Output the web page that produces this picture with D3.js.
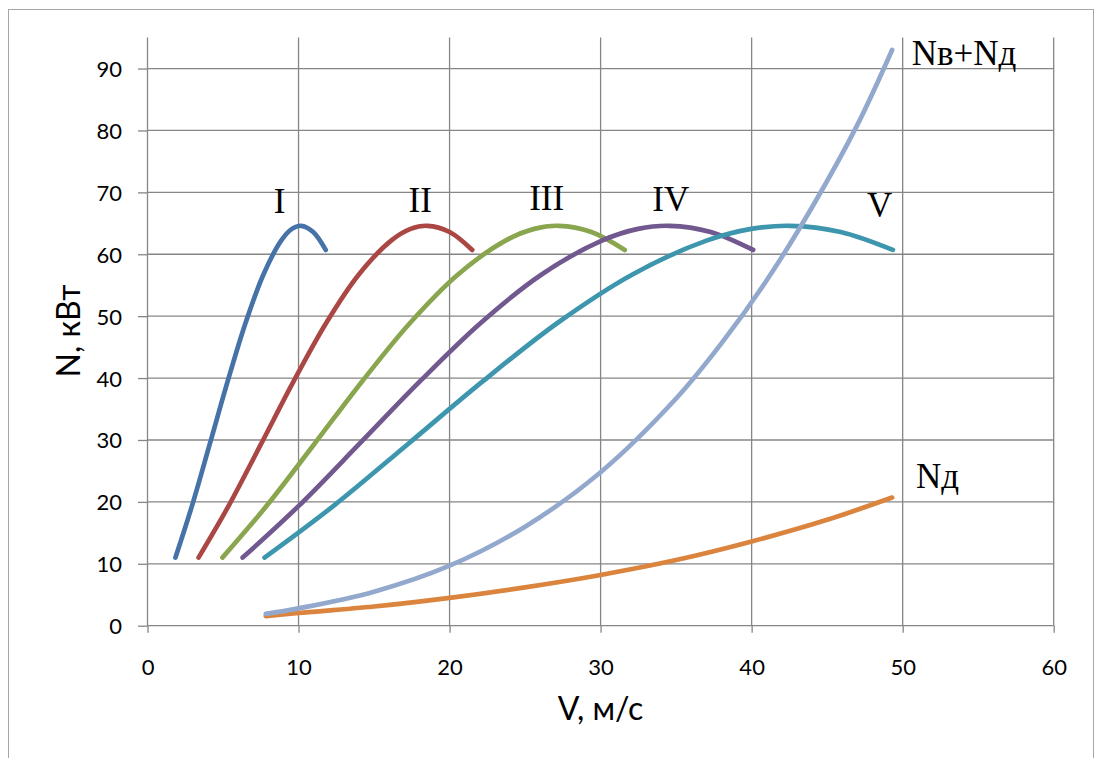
<!DOCTYPE html>
<html>
<head>
<meta charset="utf-8">
<script src="https://cdn.jsdelivr.net/npm/d3@7"></script>
<style>
  body { margin: 0; background: #fff; }
  svg { display: block; }
  .tick text { font-family: Lato, "Open Sans", sans-serif; font-size: 22px; fill: #000; }
  .tick line { stroke: #868686; stroke-width: 1.3; }
  .grid line { stroke: #868686; stroke-width: 1.3; }
  .title { font-family: Lato, "Open Sans", sans-serif; font-size: 32px; fill: #000; }
  .curve-label { font-family: "Liberation Serif", "DejaVu Serif", serif; font-size: 35px; fill: #000; }
</style>
</head>
<body>
<script>
// power N (kW)
const gearPower = [11, 19.4, 29.4, 39.5, 48.9, 56.7, 62.2, 64.1, 64.6, 63.6, 60.7];
// speed V (m/s) at those power values, per gear
const speedI   = [1.85, 2.95, 4.13, 5.31, 6.49, 7.67, 8.85, 9.56, 10.17, 10.97, 11.8];
const speedII  = [3.38, 5.38, 7.53, 9.68, 11.83, 13.98, 16.13, 17.42, 18.53, 20.0, 21.5];
const speedIII = [4.96, 7.9, 11.06, 14.22, 17.38, 20.54, 23.7, 25.6, 27.24, 29.39, 31.6];
const speedIV  = [6.3, 10.03, 14.04, 18.05, 22.06, 26.07, 30.08, 32.48, 34.57, 37.29, 40.1];
const speedV   = [7.75, 12.34, 17.27, 22.21, 27.14, 32.08, 37.01, 39.97, 42.54, 45.9, 49.35];

// Nв+Nд
const sumSpeed = [7.83, 10, 15, 20, 25, 30, 35, 38, 41, 44, 47, 49.3];
const sumPower = [1.9, 2.8, 5.5, 9.7, 16.0, 24.8, 36.7, 45.6, 55.8, 67.6, 80.9, 93];

// Nд
const dragSpeed = [7.83, 10, 15, 20, 25, 30, 35, 40, 45, 49.3];
const dragPower = [1.55, 2.05, 3.1, 4.5, 6.2, 8.2, 10.6, 13.6, 17.1, 20.7];

const xTicks = [0, 10, 20, 30, 40, 50, 60];
const yTicks = [0, 10, 20, 30, 40, 50, 60, 70, 80, 90];

const labels = [
  {text: "I",     v: 8.74,  n: 66.7, anchor: "middle"},
  {text: "II",    v: 18.06, n: 66.75, anchor: "middle"},
  {text: "III",   v: 26.43, n: 67.2, anchor: "middle"},
  {text: "IV",    v: 34.65, n: 67.0, anchor: "middle"},
  {text: "V",     v: 48.48, n: 66.1, anchor: "middle"},
  {text: "Nв+Nд", v: 50.6,  n: 90.6, anchor: "start"},
  {text: "Nд",    v: 50.89, n: 22.2, anchor: "start"}
];

const width = 1096, height = 758;

const x = d3.scaleLinear().domain([0, 60]).range([147.5, 1053.7]);
const y = d3.scaleLinear().domain([0, 95]).range([625.7, 37.6]);

const svg = d3.select("body").append("svg")
    .attr("width", width)
    .attr("height", height);

svg.append("rect")
    .attr("x", 8.5).attr("y", 9.5)
    .attr("width", 1085).attr("height", 780)
    .attr("fill", "#fff")
    .attr("stroke", "#a6a6a6")
    .attr("stroke-width", 1);

const grid = svg.append("g").attr("class", "grid");
grid.selectAll(".h").data(yTicks).enter().append("line")
    .attr("x1", x(0)).attr("x2", x(60))
    .attr("y1", d => y(d)).attr("y2", d => y(d));
grid.selectAll(".v").data(xTicks).enter().append("line")
    .attr("x1", d => x(d)).attr("x2", d => x(d))
    .attr("y1", y(95)).attr("y2", y(0));

svg.append("g")
    .attr("transform", "translate(0," + y(0) + ")")
    .call(d3.axisBottom(x).tickValues(xTicks).tickSizeInner(7).tickSizeOuter(0).tickPadding(27))
    .call(g => g.select(".domain").remove());

svg.append("g")
    .attr("transform", "translate(" + x(0) + ",0)")
    .call(d3.axisLeft(y).tickValues(yTicks).tickSizeInner(9.5).tickSizeOuter(0).tickPadding(16))
    .call(g => g.select(".domain").remove())
    .call(g => g.selectAll("text").attr("dy", "0.36em"));

svg.append("text")
    .attr("class", "title")
    .attr("x", 600.5).attr("y", 720)
    .attr("text-anchor", "middle")
    .text("V, м/с");

svg.append("text")
    .attr("class", "title")
    .attr("transform", "translate(80,331) rotate(-90)")
    .attr("text-anchor", "middle")
    .text("N, кВт");

const line = d3.line()
    .x(d => x(d[0]))
    .y(d => y(d[1]))
    .curve(d3.curveCatmullRom.alpha(0.5));

const series = [
  {v: speedI,    n: gearPower, color: "#4572A7"},
  {v: speedII,   n: gearPower, color: "#AA4643"},
  {v: speedIII,  n: gearPower, color: "#89A54E"},
  {v: speedIV,   n: gearPower, color: "#71588F"},
  {v: speedV,    n: gearPower, color: "#3D96AE"},
  {v: dragSpeed, n: dragPower, color: "#DB843D"},
  {v: sumSpeed,  n: sumPower,  color: "#92A8CD"}
];

svg.append("g").selectAll("path")
    .data(series)
    .enter().append("path")
      .attr("d", s => line(s.v.map((v, i) => [v, s.n[i]])))
      .attr("fill", "none")
      .attr("stroke", s => s.color)
      .attr("stroke-width", 4.7)
      .attr("stroke-linecap", "round")
      .attr("stroke-linejoin", "round");

svg.append("g").selectAll("text")
    .data(labels)
    .enter().append("text")
      .attr("class", "curve-label")
      .attr("x", d => x(d.v))
      .attr("y", d => y(d.n))
      .attr("text-anchor", d => d.anchor)
      .text(d => d.text);
</script>
</body>
</html>
